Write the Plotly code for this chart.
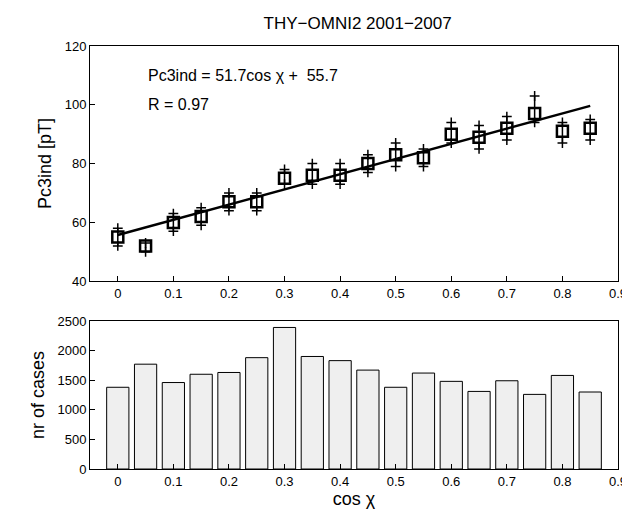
import plotly.graph_objects as go
from plotly.subplots import make_subplots

# Data
cos_chi = [0, 0.05, 0.1, 0.15, 0.2, 0.25, 0.3, 0.35, 0.4, 0.45, 0.5, 0.55, 0.6, 0.65, 0.7, 0.75, 0.8, 0.85]
pc3ind = [55, 52, 60, 62, 67, 67, 75, 76, 76, 80, 83, 82, 90, 89, 92, 97, 91, 92]
err_up = [3, 1, 3, 3, 3, 3, 3, 4, 4, 3, 4, 3, 4, 4, 4, 6, 3, 3]
err_dn = [3, 2, 3, 3, 3, 3, 2, 3, 3, 3, 4, 3, 3, 4, 4, 3, 4, 4]
n_cases = [1380, 1770, 1460, 1600, 1630, 1880, 2390, 1900, 1830, 1670, 1380, 1620, 1480, 1310, 1490, 1260, 1580, 1300]
slope, intercept = 51.7, 55.7

fig = make_subplots(rows=2, cols=1)
font = dict(family="Liberation Sans, Arial", color="black")

upper = [y + e for y, e in zip(pc3ind, err_up)]
lower = [y - e for y, e in zip(pc3ind, err_dn)]
for ys in (upper, lower):
    fig.add_trace(go.Scatter(x=cos_chi, y=ys, mode="markers",
                             marker=dict(symbol="cross-thin", size=7, color="black",
                                         line=dict(width=1.5, color="black"))), 1, 1)
fig.add_trace(go.Scatter(x=cos_chi, y=pc3ind, mode="markers",
                         error_y=dict(type="data", symmetric=False, array=err_up, arrayminus=err_dn,
                                      width=0, thickness=1.5, color="black"),
                         marker=dict(symbol="square-open", size=11, color="black",
                                     line=dict(width=2.5, color="black"))), 1, 1)
fit_x = [cos_chi[0], cos_chi[-1]]
fig.add_trace(go.Scatter(x=fit_x, y=[intercept + slope * x for x in fit_x], mode="lines",
                         line=dict(color="black", width=2.5)), 1, 1)

fig.add_trace(go.Bar(x=cos_chi, y=n_cases, width=0.04,
                     marker=dict(color="#efefef", line=dict(color="black", width=1))), 2, 1)

axis = dict(showline=True, mirror=True, linecolor="black", linewidth=1, ticks="inside",
            ticklen=5, tickcolor="black", showgrid=False, zeroline=False, tickfont=dict(size=13, **font))
fig.update_xaxes(range=[-0.05, 0.9], dtick=0.1, **axis)
fig.update_xaxes(title=dict(text="cos χ", font=dict(size=18, **font), standoff=4), row=2, col=1)
fig.update_yaxes(range=[40, 120], dtick=20, domain=[0.444, 1], row=1, col=1, **axis)
fig.update_yaxes(title=dict(text="Pc3ind [pT]", font=dict(size=18, **font), standoff=8), row=1, col=1)
fig.update_yaxes(range=[0, 2500], dtick=500, domain=[0, 0.35], row=2, col=1, **axis)
fig.update_yaxes(title=dict(text="nr of cases", font=dict(size=18, **font), standoff=8), row=2, col=1)

fig.add_annotation(x=0.05, y=110, xref="x", yref="y", xanchor="left", showarrow=False,
                   text="Pc3ind = 51.7cos χ +  55.7", font=dict(size=16, **font))
fig.add_annotation(x=0.05, y=100, xref="x", yref="y", xanchor="left", showarrow=False,
                   text="R = 0.97", font=dict(size=16, **font))

fig.update_layout(width=630, height=523, showlegend=False, plot_bgcolor="white", paper_bgcolor="white",
                  margin=dict(l=82, r=20, t=38, b=62),
                  title=dict(text="THY−OMNI2 2001−2007", x=0.555, y=0.982, font=dict(size=17, **font)))
fig.write_html("out.html")
